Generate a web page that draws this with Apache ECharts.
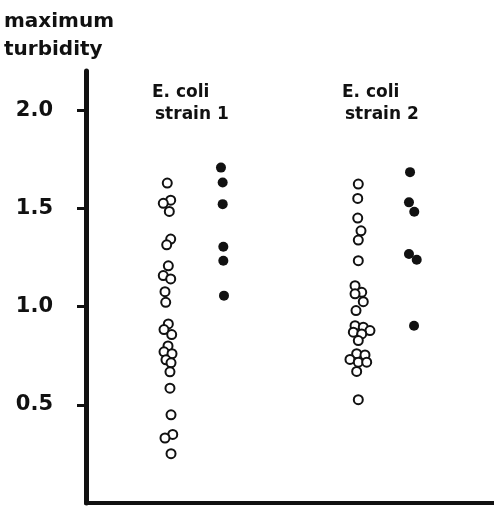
<!DOCTYPE html>
<html>
<head>
<meta charset="utf-8">
<script src="https://cdn.jsdelivr.net/npm/echarts@6/dist/echarts.min.js"></script>
<style>html,body{margin:0;padding:0;background:#fff;}#c{width:494px;height:506px;}</style>
</head>
<body>
<div id="c"></div>
<script>
// Tick labels on the y axis
const yTicks = [0.5, 1.0, 1.5, 2.0];

// Strain 1, open circles: horizontal position (jitter, axis units) and max turbidity
const s1OpenX = [0.996,1.038,0.947,1.021,1.038,0.989,1.009,0.947,1.038,0.968,0.977,1.009,0.956,1.050,1.005,0.956,1.054,0.980,1.042,1.029,1.029,1.042,1.063,0.968,1.042];
const s1OpenY = [1.629,1.542,1.526,1.485,1.344,1.315,1.208,1.158,1.141,1.076,1.022,0.912,0.883,0.858,0.800,0.770,0.760,0.729,0.714,0.668,0.585,0.449,0.349,0.331,0.251];

// Strain 1, filled circles
const s1FillX = [1.654,1.675,1.675,1.683,1.683,1.691];
const s1FillY = [1.708,1.632,1.522,1.305,1.234,1.056];

// Strain 2, open circles
const s2OpenX = [3.337,3.330,3.330,3.370,3.337,3.337,3.297,3.379,3.297,3.398,3.309,3.297,3.398,3.480,3.276,3.379,3.337,3.317,3.419,3.235,3.337,3.440,3.317,3.337];
const s2OpenY = [1.624,1.551,1.451,1.386,1.339,1.234,1.107,1.073,1.065,1.025,0.980,0.903,0.895,0.878,0.870,0.861,0.827,0.760,0.754,0.731,0.717,0.717,0.670,0.526];

// Strain 2, filled circles
const s2FillX = [3.971,3.958,4.023,3.958,4.053,4.020];
const s2FillY = [1.685,1.531,1.483,1.268,1.239,0.903];

const zip = (xs, ys) => xs.map((x, i) => [x, ys[i]]);

const font = "'DejaVu Sans', sans-serif";
const chart = echarts.init(document.getElementById('c'), null, {renderer: 'canvas'});

const openStyle = {color: '#fff', borderColor: '#111', borderWidth: 2, opacity: 1};
const fillStyle = {color: '#111', borderColor: '#111', borderWidth: 0, opacity: 1};
const tStyle = size => ({fontFamily: font, fontWeight: 'bold', fontSize: size, color: '#111'});

chart.setOption({
  animation: false,
  backgroundColor: '#fff',
  title: [
    {text: 'maximum', left: 4, top: 12, padding: 0, textStyle: tStyle(20)},
    {text: 'turbidity', left: 4, top: 40, padding: 0, textStyle: tStyle(20)},
    {text: 'E. coli', left: 152, top: 84, padding: 0, textStyle: tStyle(17)},
    {text: 'strain 1', left: 155, top: 106, padding: 0, textStyle: tStyle(17)},
    {text: 'E. coli', left: 342, top: 84, padding: 0, textStyle: tStyle(17)},
    {text: 'strain 2', left: 345, top: 106, padding: 0, textStyle: tStyle(17)}
  ],
  grid: {left: 86, right: 0, top: 71, bottom: 3, containLabel: false},
  xAxis: {
    type: 'value', min: 0, max: 5,
    axisLine: {show: true, onZero: false, lineStyle: {color: '#111', width: 4}},
    axisTick: {show: false}, axisLabel: {show: false}, splitLine: {show: false}
  },
  yAxis: {
    type: 'value', min: 0, max: 2.2, interval: 0.5,
    axisLine: {show: true, lineStyle: {color: '#111', width: 5}},
    axisTick: {show: true, length: 9, customValues: yTicks, lineStyle: {color: '#111', width: 3}},
    axisLabel: {
      show: true, margin: 33, customValues: yTicks,
      fontFamily: font, fontWeight: 'bold', fontSize: 21, color: '#111',
      formatter: v => v.toFixed(1)
    },
    splitLine: {show: false}
  },
  series: [
    {type: 'scatter', data: zip(s1OpenX, s1OpenY), symbol: 'circle', symbolSize: 9, itemStyle: openStyle},
    {type: 'scatter', data: zip(s2OpenX, s2OpenY), symbol: 'circle', symbolSize: 9, itemStyle: openStyle},
    {type: 'scatter', data: zip(s1FillX, s1FillY), symbol: 'circle', symbolSize: 10, itemStyle: fillStyle},
    {type: 'scatter', data: zip(s2FillX, s2FillY), symbol: 'circle', symbolSize: 10, itemStyle: fillStyle}
  ]
});
</script>
</body>
</html>
